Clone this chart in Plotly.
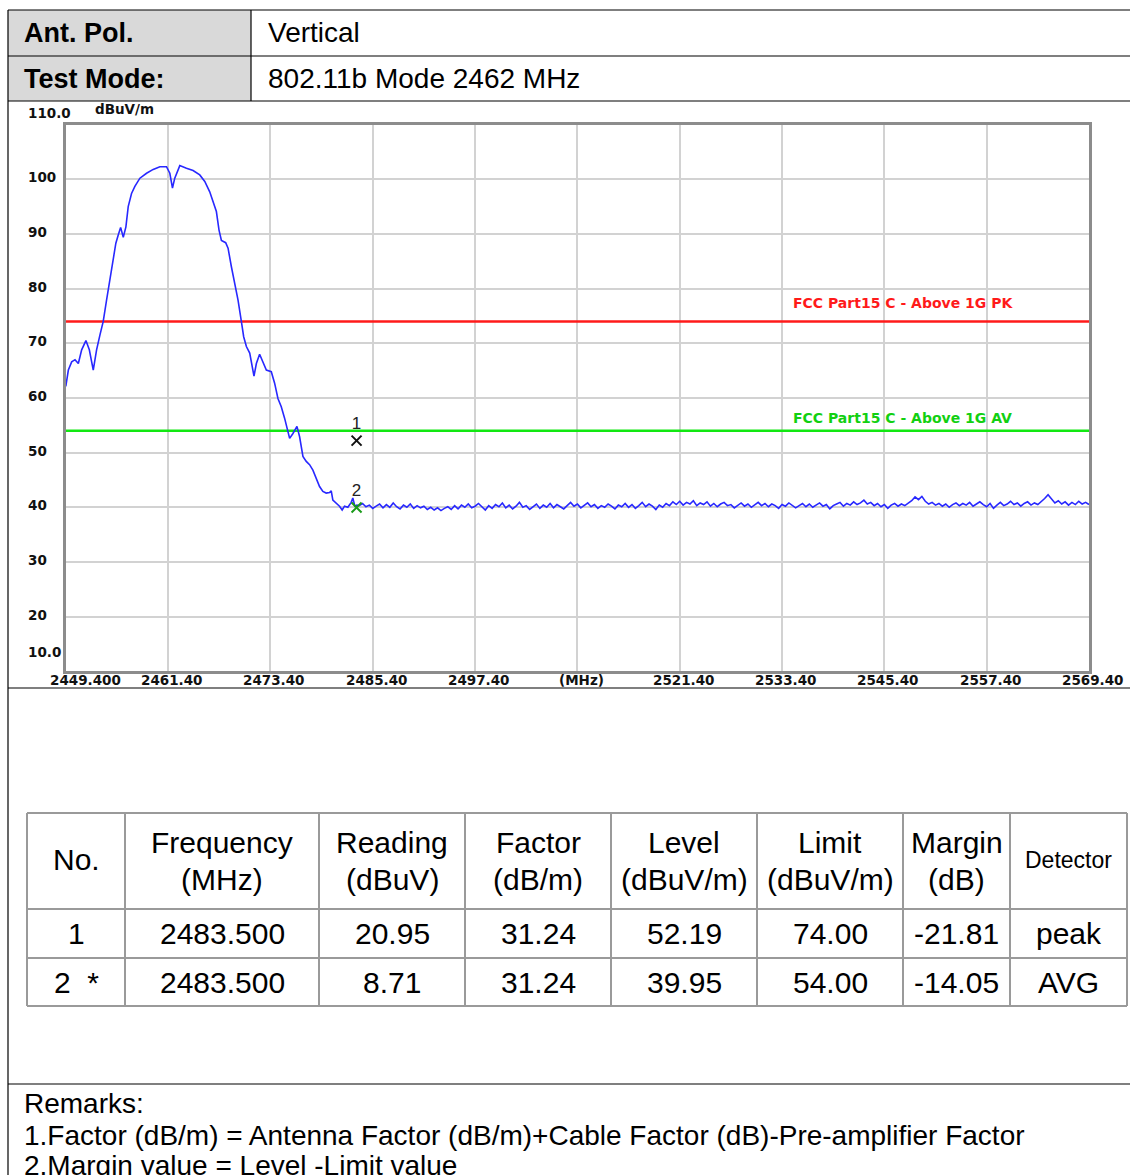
import numpy as np
import plotly.graph_objects as go

W, H = 1130, 1175


def px(x):
    return x / W


def py(y):
    return 1 - y / H


# header block
head_keys = ["Ant. Pol.", "Test Mode:"]
head_vals = ["Vertical", "802.11b Mode 2462 MHz"]

# sweep: main lobe (MHz, dBuV/m)
lobe_freq = [2449.40, 2449.70, 2450.09, 2450.48, 2450.87, 2451.26, 2451.76, 2452.16, 2452.62, 2453.01,
             2453.40, 2453.79, 2454.18, 2454.57, 2454.96, 2455.27, 2455.55, 2455.83, 2456.14, 2456.45,
             2456.72, 2457.11, 2457.50, 2458.09, 2458.87, 2459.65, 2460.43, 2461.21, 2461.60, 2461.91,
             2462.18, 2462.77, 2463.55, 2464.33, 2465.11, 2465.70, 2466.28, 2466.75, 2467.06, 2467.37,
             2467.65, 2468.15, 2468.43, 2468.82, 2469.21, 2469.60, 2469.99, 2470.26, 2470.58, 2470.97,
             2471.47, 2471.75, 2472.13, 2472.52, 2472.92, 2473.50, 2473.89, 2474.28, 2474.67, 2475.06,
             2475.38, 2475.65, 2476.04, 2476.51, 2476.82, 2477.21, 2477.60, 2477.99, 2478.38, 2478.77,
             2479.16, 2479.55, 2479.94, 2480.33, 2480.53, 2480.72, 2481.11, 2481.50, 2481.81, 2482.09,
             2482.48, 2482.87, 2483.06, 2483.30, 2483.55]
lobe_level = [62.1, 65.1, 66.6, 67.0, 66.3, 68.8, 70.5, 68.8, 65.1, 68.8,
              71.5, 74.0, 77.9, 81.6, 85.2, 88.3, 89.8, 91.2, 89.4, 91.3,
              95.0, 97.4, 98.7, 100.2, 101.1, 101.8, 102.3, 102.3, 101.1, 98.4,
              100.2, 102.5, 102.0, 101.6, 100.8, 99.6, 97.7, 95.6, 94.1, 90.7,
              88.8, 88.4, 87.4, 84.0, 81.0, 77.9, 74.0, 71.2, 69.4, 68.2,
              64.0, 66.3, 68.0, 66.6, 65.1, 64.8, 62.7, 59.9, 58.4, 56.3,
              54.1, 52.6, 53.5, 54.8, 52.9, 49.3, 48.4, 47.8, 46.8, 45.3,
              43.8, 42.9, 42.6, 42.7, 43.0, 41.3, 40.7, 40.2, 39.5, 40.2,
              40.0, 40.9, 41.7, 40.2, 40.4]

# sweep: noise floor, equally spaced sweep points from 2483.8 to 2569.4 MHz
floor_start, floor_stop = 2483.8, 2569.4
floor_level = [
    40.3, 40.7, 40.1, 40.4, 39.8, 40.2, 40.6, 39.9, 40.5, 40.0, 40.8, 40.1, 39.7, 40.4, 40.0, 40.6, 39.8, 40.3, 39.9, 40.2,
    39.6, 40.0, 39.5, 39.9, 39.4, 39.8, 40.1, 39.6, 40.3, 39.7, 40.4, 40.0, 40.6, 39.9, 40.2, 40.7, 40.0, 39.5, 40.3, 39.8,
    40.5, 40.1, 40.8, 39.9, 40.4, 39.7, 40.2, 40.9, 40.0, 40.3, 39.6, 40.1, 40.6, 39.8, 40.4, 40.0, 40.7, 39.9, 40.5, 40.1,
    39.7, 40.3, 40.9, 40.2, 40.6, 39.9, 40.4, 40.8, 40.1, 40.5, 39.8, 40.3, 40.0, 40.6, 40.2, 39.7, 40.4, 40.1, 40.7, 40.0,
    40.5, 39.8, 40.3, 40.9, 40.1, 40.6, 40.2, 39.6, 40.4, 40.0, 40.7, 40.3, 41.0, 40.5, 41.1, 40.4, 40.9, 40.6, 41.2, 40.3,
    40.8, 40.5, 41.0, 40.2, 40.7, 40.1, 40.6, 40.9, 40.3, 40.5, 39.9, 40.4, 40.8, 40.2, 40.6, 40.0, 40.5, 40.9, 40.3, 40.7,
    40.1, 40.6, 40.3, 39.8, 40.5, 40.2, 40.8, 40.4, 39.9, 40.3, 40.7, 40.1, 40.6, 40.0, 40.4, 40.8, 40.2, 40.5, 39.7, 40.3,
    40.6, 40.9, 40.2, 40.7, 40.4, 41.0, 40.5, 40.8, 41.3, 40.6, 40.9, 40.3, 40.7, 40.1, 40.5, 39.8, 40.4, 40.7, 40.2, 40.6,
    40.3, 40.8, 41.2, 41.9, 41.4, 42.0, 41.1, 40.6, 40.9, 40.4, 40.7, 40.2, 40.6, 40.0, 40.5, 40.8, 40.3, 40.7, 40.4, 40.9,
    40.2, 40.6, 41.0, 40.5, 40.1, 40.7, 39.8, 40.4, 40.9, 40.3, 40.6, 41.1, 40.5, 40.8, 40.2, 40.7, 41.0, 40.4, 40.8, 40.5,
    41.0, 41.6, 42.3, 41.5, 40.8, 41.2, 40.6, 41.0, 40.4, 40.9, 40.5, 41.1, 40.6, 40.9, 40.5,
]
floor_freq = np.linspace(floor_start, floor_stop, len(floor_level))

span = [2449.4, 2569.4]
limit_pk = 74.0
limit_av = 54.0
limit_pk_name = "FCC Part15 C - Above 1G PK"
limit_av_name = "FCC Part15 C - Above 1G AV"

x_grid = [2461.4, 2473.4, 2485.4, 2497.4, 2509.4, 2521.4, 2533.4, 2545.4, 2557.4]
x_lab_vals = [2449.4, 2461.4, 2473.4, 2485.4, 2497.4, 2509.4, 2521.4, 2533.4, 2545.4, 2557.4, 2569.4]
x_lab_text = ["2449.400", "2461.40", "2473.40", "2485.40", "2497.40", "(MHz)",
              "2521.40", "2533.40", "2545.40", "2557.40", "2569.40"]
y_lab_vals = [110, 100, 90, 80, 70, 60, 50, 40, 30, 20, 10]
y_lab_text = ["110.0", "100", "90", "80", "70", "60", "50", "40", "30", "20", "10.0"]

# result table
col_head = [["No."], ["Frequency", "(MHz)"], ["Reading", "(dBuV)"], ["Factor", "(dB/m)"],
            ["Level", "(dBuV/m)"], ["Limit", "(dBuV/m)"], ["Margin", "(dB)"], ["Detector"]]
t_no = ["1", "2  *"]
t_freq = [2483.500, 2483.500]
t_reading = [20.95, 8.71]
t_factor = [31.24, 31.24]
t_level = [52.19, 39.95]
t_limit = [74.00, 54.00]
t_margin = [-21.81, -14.05]
t_detector = ["peak", "AVG"]

remarks = ["Remarks:",
           "1.Factor (dB/m) = Antenna Factor (dB/m)+Cable Factor (dB)-Pre-amplifier Factor",
           "2.Margin value = Level -Limit value"]

ARIAL = "Liberation Sans, Arial, sans-serif"
CHART = "DejaVu Sans, sans-serif"
NARROW = "Liberation Sans Narrow, Arial Narrow, Liberation Sans, sans-serif"

fig = go.Figure()

fig.add_trace(go.Scatter(x=span, y=[limit_pk, limit_pk], mode="lines",
                         line=dict(color="#ff1a1a", width=2.5), hoverinfo="skip"))
fig.add_trace(go.Scatter(x=span, y=[limit_av, limit_av], mode="lines",
                         line=dict(color="#12e812", width=2.5), hoverinfo="skip"))
fig.add_trace(go.Scatter(x=lobe_freq + list(floor_freq), y=lobe_level + floor_level, mode="lines",
                         line=dict(color="#2828ff", width=1.6)))
fig.add_trace(go.Scatter(x=t_freq[:1], y=t_level[:1], mode="markers+text", text=["1"],
                         textposition="top center", textfont=dict(family=ARIAL, size=17, color="#222"),
                         marker=dict(symbol="x-thin", size=10, line=dict(color="#111", width=2))))
fig.add_trace(go.Scatter(x=t_freq[1:], y=t_level[1:], mode="markers+text", text=["2"],
                         textposition="top center", textfont=dict(family=ARIAL, size=17, color="#222"),
                         marker=dict(symbol="x-thin", size=10, line=dict(color="#1a9a1a", width=2))))

ann = []
# limit labels
ann.append(dict(x=2534.4, y=limit_pk, xref="x", yref="y", text=limit_pk_name, showarrow=False,
                xanchor="left", yanchor="middle", yshift=18,
                font=dict(family=CHART, size=14, color="#ff1a1a", weight="bold")))
ann.append(dict(x=2534.4, y=limit_av, xref="x", yref="y", text=limit_av_name, showarrow=False,
                xanchor="left", yanchor="middle", yshift=13,
                font=dict(family=CHART, size=14, color="#12d012", weight="bold")))

# axis labels
for v, t in zip(x_lab_vals, x_lab_text):
    shift = 20 if t == "2449.400" else 4
    ann.append(dict(x=v, y=py(680), xref="x", yref="paper", text=t, showarrow=False,
                    xanchor="center", yanchor="middle", xshift=shift,
                    font=dict(family=CHART, size=13.5, color="#111", weight="bold")))
for v, t in zip(y_lab_vals, y_lab_text):
    shift = {110: 12, 10: 19}.get(v, 2)
    ann.append(dict(x=px(26), y=v, xref="paper", yref="y", text=t, showarrow=False,
                    xanchor="left", yanchor="middle", yshift=shift,
                    font=dict(family=CHART, size=13.5, color="#111", weight="bold")))
ann.append(dict(x=px(93), y=py(109), xref="paper", yref="paper", text="dBuV/m", showarrow=False,
                xanchor="left", yanchor="middle",
                font=dict(family=CHART, size=13.5, color="#111", weight="bold")))

# header block text
for i, (k, v) in enumerate(zip(head_keys, head_vals)):
    yc = [33, 79][i]
    ann.append(dict(x=px(22), y=py(yc), xref="paper", yref="paper", text=k, showarrow=False,
                    xanchor="left", yanchor="middle",
                    font=dict(family=ARIAL, size=27, color="#000", weight="bold")))
    ann.append(dict(x=px(266), y=py(yc), xref="paper", yref="paper", text=v, showarrow=False,
                    xanchor="left", yanchor="middle", font=dict(family=ARIAL, size=28, color="#000")))

# result table text
col_x = [27, 125, 319, 465, 611, 757, 903, 1010, 1127]
row_y = [813, 909, 958, 1006]
for c, head in enumerate(col_head):
    xc = (col_x[c] + col_x[c + 1]) / 2
    size = 23 if head == ["Detector"] else 30
    lines_y = [860] if len(head) == 1 else [843, 879]
    for t, yc in zip(head, lines_y):
        ann.append(dict(x=px(xc), y=py(yc), xref="paper", yref="paper", text=t, showarrow=False,
                        xanchor="center", yanchor="middle", font=dict(family=ARIAL, size=size, color="#000")))

rows = []
for r in range(2):
    rows.append([t_no[r], f"{t_freq[r]:.3f}", f"{t_reading[r]:.2f}", f"{t_factor[r]:.2f}",
                 f"{t_level[r]:.2f}", f"{t_limit[r]:.2f}", f"{t_margin[r]:.2f}", t_detector[r]])
for r, row in enumerate(rows):
    yc = (row_y[r + 1] + row_y[r + 2]) / 2
    for c, t in enumerate(row):
        xc = (col_x[c] + col_x[c + 1]) / 2
        ann.append(dict(x=px(xc), y=py(yc), xref="paper", yref="paper", text=t, showarrow=False,
                        xanchor="center", yanchor="middle", font=dict(family=ARIAL, size=30, color="#000")))

# remarks
for t, yc in zip(remarks, [1103, 1135, 1165]):
    ann.append(dict(x=px(22), y=py(yc), xref="paper", yref="paper", text=t, showarrow=False,
                    xanchor="left", yanchor="middle", font=dict(family=NARROW, size=28, color="#000")))

shapes = []


def hline(y, x0, x1, color="#000", width=1.2):
    shapes.append(dict(type="line", xref="paper", yref="paper", x0=px(x0), x1=px(x1), y0=py(y), y1=py(y),
                       line=dict(color=color, width=width)))


def vline(x, y0, y1, color="#000", width=1.2):
    shapes.append(dict(type="line", xref="paper", yref="paper", x0=px(x), x1=px(x), y0=py(y0), y1=py(y1),
                       line=dict(color=color, width=width)))


shapes.append(dict(type="rect", xref="paper", yref="paper", x0=px(8), x1=px(251), y0=py(101), y1=py(10),
                   fillcolor="#d9d9d9", line=dict(width=0), layer="below"))
for y in [10, 56, 101, 688, 1084]:
    hline(y, 8, W)
vline(251, 10, 101)
vline(8, 10, H)

for y in row_y:
    hline(y, col_x[0], col_x[-1], color="#9a9a9a", width=2)
for x in col_x:
    vline(x, row_y[0], row_y[-1], color="#9a9a9a", width=2)

fig.update_layout(
    width=W, height=H,
    margin=dict(l=0, r=0, t=0, b=0),
    paper_bgcolor="white", plot_bgcolor="white",
    showlegend=False,
    annotations=ann,
    shapes=shapes,
    xaxis=dict(domain=[px(65.8), px(1089)], range=span, tickvals=x_grid, showticklabels=False,
               showgrid=True, gridcolor="#d2d2d2", gridwidth=1.5, zeroline=False,
               showline=True, mirror=True, linecolor="#8c8c8c", linewidth=3, ticks=""),
    yaxis=dict(domain=[py(671.3), py(124.6)], range=[10, 110], tickvals=y_lab_vals[1:-1],
               showticklabels=False, showgrid=True, gridcolor="#d2d2d2", gridwidth=1.5, zeroline=False,
               showline=True, mirror=True, linecolor="#8c8c8c", linewidth=3, ticks=""),
)

fig.write_html("out.html", config={"displayModeBar": False},
               post_script="document.body.style.margin='0';")
